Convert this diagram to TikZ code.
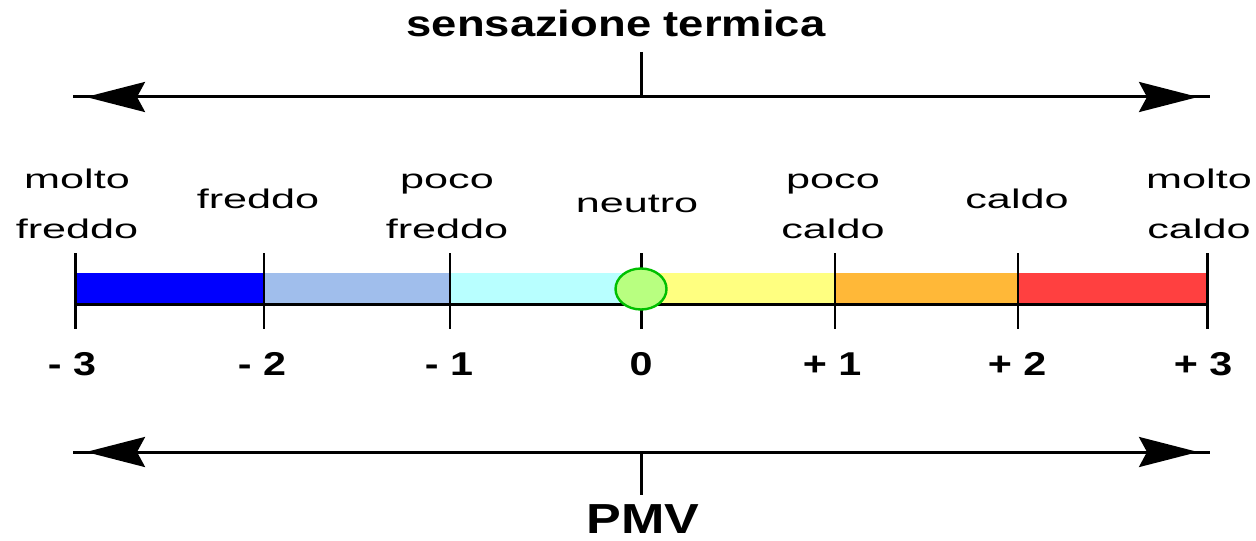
\documentclass[tikz,border=0pt]{standalone}
\usepackage{fontspec}
\usetikzlibrary{arrows.meta,shapes.geometric}
\newfontfamily\labfont[FakeStretch=1.6]{Liberation Sans}
\newfontfamily\numfont[FakeStretch=1.25]{Liberation Sans}
\newfontfamily\titfont[FakeStretch=1.24]{Liberation Sans}
\definecolor{cA}{RGB}{0,0,255}
\definecolor{cB}{RGB}{160,190,236}
\definecolor{cC}{RGB}{184,255,255}
\definecolor{cD}{RGB}{255,255,128}
\definecolor{cE}{RGB}{255,184,56}
\definecolor{cF}{RGB}{255,64,64}
\definecolor{dotfill}{RGB}{184,255,128}
\definecolor{dotline}{RGB}{0,192,0}
\tikzset{
  axisline/.style={line width=1.5pt},
  bigarrows/.style={line width=1.5pt,
    {Stealth[length=29.5pt,width=15pt,inset=4pt]}-{Stealth[length=29.5pt,width=15pt,inset=4pt]}},
  tickline/.style={line width=1pt},
  endtick/.style={line width=1.5pt},
  lab/.style={inner sep=0pt, anchor=base, font=\labfont\fontsize{13.5}{25}\selectfont},
  num/.style={inner sep=0pt, anchor=base, font=\numfont\bfseries\fontsize{16.5}{20}\selectfont},
  title/.style={inner sep=0pt, anchor=base, font=\titfont\bfseries\fontsize{18.3}{22}\selectfont},
  pmv/.style={inner sep=0pt, anchor=base, font=\titfont\bfseries\fontsize{21}{25}\selectfont},
}
\begin{document}
\begin{tikzpicture}[x=0.5pt,y=-0.5pt]
\useasboundingbox (0,0) rectangle (1256,540);
% title and top arrow
\node[title] (title) at (616,37) {sensazione termica};
\coordinate (tl) at (73,97);
\coordinate (tr) at (1210,97);
\coordinate (tal) at (86,97);
\coordinate (tar) at (1198,97);
\coordinate (tt) at (641,52);
\coordinate (tm) at (641,97);
\draw[axisline] (tl) -- (tr);
\draw[bigarrows] (tal) -- (tar);
\draw[axisline] (tt) -- (tm);
% bar segments
\fill[cA] (75,273) rectangle (264,303);
\fill[cB] (264,273) rectangle (450,303);
\fill[cC] (450,273) rectangle (641,303);
\fill[cD] (641,273) rectangle (835,303);
\fill[cE] (835,273) rectangle (1018,303);
\fill[cF] (1018,273) rectangle (1207,303);
\coordinate (bl) at (75,304);
\coordinate (br) at (1207,304);
\draw[axisline] (bl) -- (br);
% ticks
\foreach \x/\n in {75/0,264/1,450/2,641/3,835/4,1018/5,1207/6}{
  \coordinate (ta\n) at (\x,253);
  \coordinate (tb\n) at (\x,329);
}
\draw[endtick] (ta0) -- (tb0);
\draw[tickline] (ta1) -- (tb1);
\draw[tickline] (ta2) -- (tb2);
\draw[endtick] (ta3) -- (tb3);
\draw[tickline] (ta4) -- (tb4);
\draw[tickline] (ta5) -- (tb5);
\draw[endtick] (ta6) -- (tb6);
% neutral dot
\node[draw=dotline, fill=dotfill, line width=1.2pt, ellipse, minimum width=25.5pt, minimum height=20.5pt, inner sep=0pt] (dot) at (641,289) {};
% labels
\node[lab] (l1) at (77,188) {\begin{tabular}[t]{@{}c@{}}molto\\freddo\end{tabular}};
\node[lab] (l2) at (258,208) {freddo};
\node[lab] (l3) at (447,188) {\begin{tabular}[t]{@{}c@{}}poco\\freddo\end{tabular}};
\node[lab] (l4) at (637,212) {neutro};
\node[lab] (l5) at (833,188) {\begin{tabular}[t]{@{}c@{}}poco\\caldo\end{tabular}};
\node[lab] (l6) at (1017,208) {caldo};
\node[lab] (l7) at (1199,188) {\begin{tabular}[t]{@{}c@{}}molto\\caldo\end{tabular}};
% numbers
\node[num] (n1) at (72,375) {- 3};
\node[num] (n2) at (262,375) {- 2};
\node[num] (n3) at (449,375) {- 1};
\node[num] (n4) at (641,375) {0};
\node[num] (n5) at (832,375) {+ 1};
\node[num] (n6) at (1017,375) {+ 2};
\node[num] (n7) at (1203,375) {+ 3};
% bottom arrow
\coordinate (bl2) at (73,452);
\coordinate (br2) at (1210,452);
\coordinate (bal) at (86,452);
\coordinate (bar) at (1198,452);
\coordinate (bt) at (641,495);
\coordinate (bm) at (641,452);
\draw[axisline] (bl2) -- (br2);
\draw[bigarrows] (bal) -- (bar);
\draw[axisline] (bm) -- (bt);
\node[pmv] (pmv) at (643,533) {PMV};
\end{tikzpicture}
\end{document}
